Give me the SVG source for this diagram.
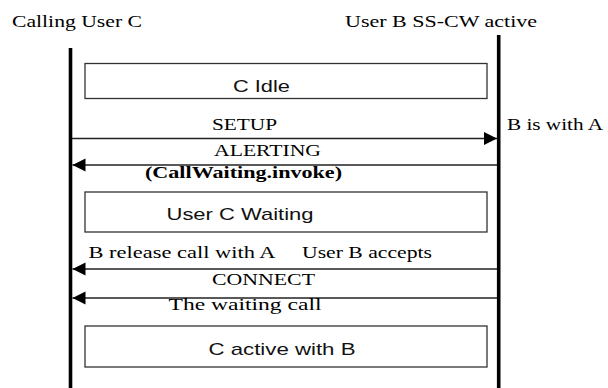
<svg xmlns="http://www.w3.org/2000/svg" width="608" height="388" viewBox="0 0 608 388">
<style>
.bg{fill:#fff}
.life{stroke:#000;stroke-width:3.6;fill:none}
.box{fill:#fff;stroke:#333;stroke-width:1.3}
.msg{stroke:#222;stroke-width:1.3;fill:none}
.serif{font-family:"Liberation Serif","Times New Roman",serif;font-size:17px;fill:#000}
.bold{font-weight:bold}
.sans{font-family:"Liberation Sans",Arial,sans-serif;font-size:17px;fill:#111}
</style>
<defs>
<marker id="ah" markerUnits="userSpaceOnUse" markerWidth="14" markerHeight="14" refX="13" refY="7" orient="auto">
<path d="M0,0.5 L13,7 L0,13.5 Z" fill="#000"/>
</marker>
</defs>
<rect class="bg" x="0" y="0" width="608" height="388"/>
<g id="lifeline-c">
<text class="serif" x="12" y="27" textLength="130" lengthAdjust="spacingAndGlyphs">Calling User C</text>
<line class="life" x1="70.5" y1="48" x2="70.5" y2="388"/>
</g>
<g id="lifeline-b">
<text class="serif" x="345" y="27" textLength="192" lengthAdjust="spacingAndGlyphs">User B SS-CW active</text>
<line class="life" x1="498.7" y1="35" x2="498.7" y2="388"/>
<text class="serif" x="507" y="130" textLength="96" lengthAdjust="spacingAndGlyphs">B is with A</text>
</g>
<g id="state-c-idle">
<rect class="box" x="85" y="63.5" width="402" height="35"/>
<text class="sans" x="233" y="91.5" textLength="57" lengthAdjust="spacingAndGlyphs">C Idle</text>
</g>
<g id="state-user-c-waiting">
<rect class="box" x="85" y="192" width="402" height="40"/>
<text class="sans" x="166.5" y="220" textLength="147" lengthAdjust="spacingAndGlyphs">User C Waiting</text>
</g>
<g id="state-c-active">
<rect class="box" x="85" y="326" width="402" height="41"/>
<text class="sans" x="208.5" y="355" textLength="147" lengthAdjust="spacingAndGlyphs">C active with B</text>
</g>
<g id="connectors">
<line class="msg" x1="72" y1="138.5" x2="497" y2="138.5" marker-end="url(#ah)"/>
<text class="serif" x="212" y="129.5" textLength="65" lengthAdjust="spacingAndGlyphs">SETUP</text>
<line class="msg" x1="497" y1="165" x2="72.5" y2="165" marker-end="url(#ah)"/>
<text class="serif" x="214" y="156" textLength="107" lengthAdjust="spacingAndGlyphs">ALERTING</text>
<text class="serif bold" x="145" y="178" textLength="197" lengthAdjust="spacingAndGlyphs">(CallWaiting.invoke)</text>
<text class="serif" x="88.5" y="258" textLength="187" lengthAdjust="spacingAndGlyphs">B release call with A</text>
<text class="serif" x="302" y="258" textLength="130" lengthAdjust="spacingAndGlyphs">User B accepts</text>
<line class="msg" x1="497" y1="269" x2="72.5" y2="269" marker-end="url(#ah)"/>
<text class="serif" x="212" y="285" textLength="103" lengthAdjust="spacingAndGlyphs">CONNECT</text>
<line class="msg" x1="497" y1="298" x2="72.5" y2="298" marker-end="url(#ah)"/>
<text class="serif" x="168.5" y="310" textLength="153" lengthAdjust="spacingAndGlyphs">The waiting call</text>
</g>
</svg>
